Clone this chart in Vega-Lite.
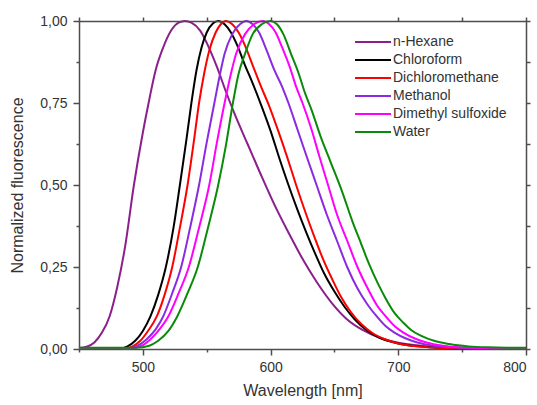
{
  "$schema": "https://vega.github.io/schema/vega-lite/v6.json",
  "width": 447,
  "height": 328,
  "autosize": {"type": "none"},
  "padding": {"left": 79, "top": 21, "right": 11, "bottom": 56},
  "background": "white",
  "datasets": {
    "spectra": [
      {"solvent":"n-Hexane","wavelength":450,"fluorescence":0.003},{"solvent":"n-Hexane","wavelength":456,"fluorescence":0.007},{"solvent":"n-Hexane","wavelength":462,"fluorescence":0.02},{"solvent":"n-Hexane","wavelength":468,"fluorescence":0.05},{"solvent":"n-Hexane","wavelength":474,"fluorescence":0.1},{"solvent":"n-Hexane","wavelength":480,"fluorescence":0.19},{"solvent":"n-Hexane","wavelength":486,"fluorescence":0.31},{"solvent":"n-Hexane","wavelength":493,"fluorescence":0.5},{"solvent":"n-Hexane","wavelength":500,"fluorescence":0.66},{"solvent":"n-Hexane","wavelength":505,"fluorescence":0.76},{"solvent":"n-Hexane","wavelength":510,"fluorescence":0.85},{"solvent":"n-Hexane","wavelength":516,"fluorescence":0.92},{"solvent":"n-Hexane","wavelength":522,"fluorescence":0.97},{"solvent":"n-Hexane","wavelength":528,"fluorescence":0.995},{"solvent":"n-Hexane","wavelength":533,"fluorescence":1.0},{"solvent":"n-Hexane","wavelength":538,"fluorescence":0.995},{"solvent":"n-Hexane","wavelength":545,"fluorescence":0.97},{"solvent":"n-Hexane","wavelength":551,"fluorescence":0.925},{"solvent":"n-Hexane","wavelength":558,"fluorescence":0.86},{"solvent":"n-Hexane","wavelength":565,"fluorescence":0.785},{"solvent":"n-Hexane","wavelength":572,"fluorescence":0.715},{"solvent":"n-Hexane","wavelength":582,"fluorescence":0.625},{"solvent":"n-Hexane","wavelength":592,"fluorescence":0.535},{"solvent":"n-Hexane","wavelength":603,"fluorescence":0.44},{"solvent":"n-Hexane","wavelength":614,"fluorescence":0.355},{"solvent":"n-Hexane","wavelength":625,"fluorescence":0.275},{"solvent":"n-Hexane","wavelength":636,"fluorescence":0.205},{"solvent":"n-Hexane","wavelength":648,"fluorescence":0.14},{"solvent":"n-Hexane","wavelength":660,"fluorescence":0.09},{"solvent":"n-Hexane","wavelength":672,"fluorescence":0.058},{"solvent":"n-Hexane","wavelength":685,"fluorescence":0.035},{"solvent":"n-Hexane","wavelength":700,"fluorescence":0.019},{"solvent":"n-Hexane","wavelength":720,"fluorescence":0.009},{"solvent":"n-Hexane","wavelength":745,"fluorescence":0.004},{"solvent":"n-Hexane","wavelength":770,"fluorescence":0.002},{"solvent":"n-Hexane","wavelength":800,"fluorescence":0.001},

      {"solvent":"Chloroform","wavelength":450,"fluorescence":0.002},{"solvent":"Chloroform","wavelength":482,"fluorescence":0.002},{"solvent":"Chloroform","wavelength":488,"fluorescence":0.008},{"solvent":"Chloroform","wavelength":494,"fluorescence":0.025},{"solvent":"Chloroform","wavelength":500,"fluorescence":0.055},{"solvent":"Chloroform","wavelength":506,"fluorescence":0.1},{"solvent":"Chloroform","wavelength":512,"fluorescence":0.165},{"solvent":"Chloroform","wavelength":518,"fluorescence":0.25},{"solvent":"Chloroform","wavelength":524,"fluorescence":0.37},{"solvent":"Chloroform","wavelength":529,"fluorescence":0.5},{"solvent":"Chloroform","wavelength":534,"fluorescence":0.635},{"solvent":"Chloroform","wavelength":538,"fluorescence":0.75},{"solvent":"Chloroform","wavelength":542,"fluorescence":0.85},{"solvent":"Chloroform","wavelength":546,"fluorescence":0.92},{"solvent":"Chloroform","wavelength":550,"fluorescence":0.965},{"solvent":"Chloroform","wavelength":555,"fluorescence":0.993},{"solvent":"Chloroform","wavelength":559,"fluorescence":1.0},{"solvent":"Chloroform","wavelength":564,"fluorescence":0.99},{"solvent":"Chloroform","wavelength":569,"fluorescence":0.965},{"solvent":"Chloroform","wavelength":574,"fluorescence":0.925},{"solvent":"Chloroform","wavelength":580,"fluorescence":0.865},{"solvent":"Chloroform","wavelength":586,"fluorescence":0.81},{"solvent":"Chloroform","wavelength":593,"fluorescence":0.74},{"solvent":"Chloroform","wavelength":600,"fluorescence":0.665},{"solvent":"Chloroform","wavelength":607,"fluorescence":0.58},{"solvent":"Chloroform","wavelength":614,"fluorescence":0.5},{"solvent":"Chloroform","wavelength":621,"fluorescence":0.425},{"solvent":"Chloroform","wavelength":628,"fluorescence":0.355},{"solvent":"Chloroform","wavelength":635,"fluorescence":0.29},{"solvent":"Chloroform","wavelength":642,"fluorescence":0.23},{"solvent":"Chloroform","wavelength":650,"fluorescence":0.175},{"solvent":"Chloroform","wavelength":658,"fluorescence":0.128},{"solvent":"Chloroform","wavelength":666,"fluorescence":0.09},{"solvent":"Chloroform","wavelength":675,"fluorescence":0.058},{"solvent":"Chloroform","wavelength":685,"fluorescence":0.035},{"solvent":"Chloroform","wavelength":700,"fluorescence":0.017},{"solvent":"Chloroform","wavelength":715,"fluorescence":0.008},{"solvent":"Chloroform","wavelength":730,"fluorescence":0.004},{"solvent":"Chloroform","wavelength":760,"fluorescence":0.001},{"solvent":"Chloroform","wavelength":800,"fluorescence":0.001},

      {"solvent":"Dichloromethane","wavelength":450,"fluorescence":0.002},{"solvent":"Dichloromethane","wavelength":486,"fluorescence":0.002},{"solvent":"Dichloromethane","wavelength":492,"fluorescence":0.008},{"solvent":"Dichloromethane","wavelength":498,"fluorescence":0.025},{"solvent":"Dichloromethane","wavelength":504,"fluorescence":0.055},{"solvent":"Dichloromethane","wavelength":511,"fluorescence":0.1},{"solvent":"Dichloromethane","wavelength":517,"fluorescence":0.165},{"solvent":"Dichloromethane","wavelength":523,"fluorescence":0.25},{"solvent":"Dichloromethane","wavelength":529,"fluorescence":0.37},{"solvent":"Dichloromethane","wavelength":535,"fluorescence":0.5},{"solvent":"Dichloromethane","wavelength":540,"fluorescence":0.635},{"solvent":"Dichloromethane","wavelength":544,"fluorescence":0.75},{"solvent":"Dichloromethane","wavelength":548,"fluorescence":0.84},{"solvent":"Dichloromethane","wavelength":552,"fluorescence":0.91},{"solvent":"Dichloromethane","wavelength":557,"fluorescence":0.965},{"solvent":"Dichloromethane","wavelength":561,"fluorescence":0.99},{"solvent":"Dichloromethane","wavelength":565,"fluorescence":1.0},{"solvent":"Dichloromethane","wavelength":570,"fluorescence":0.99},{"solvent":"Dichloromethane","wavelength":575,"fluorescence":0.965},{"solvent":"Dichloromethane","wavelength":580,"fluorescence":0.925},{"solvent":"Dichloromethane","wavelength":586,"fluorescence":0.865},{"solvent":"Dichloromethane","wavelength":592,"fluorescence":0.805},{"solvent":"Dichloromethane","wavelength":599,"fluorescence":0.74},{"solvent":"Dichloromethane","wavelength":606,"fluorescence":0.665},{"solvent":"Dichloromethane","wavelength":613,"fluorescence":0.585},{"solvent":"Dichloromethane","wavelength":620,"fluorescence":0.5},{"solvent":"Dichloromethane","wavelength":627,"fluorescence":0.42},{"solvent":"Dichloromethane","wavelength":634,"fluorescence":0.345},{"solvent":"Dichloromethane","wavelength":641,"fluorescence":0.275},{"solvent":"Dichloromethane","wavelength":648,"fluorescence":0.215},{"solvent":"Dichloromethane","wavelength":655,"fluorescence":0.16},{"solvent":"Dichloromethane","wavelength":663,"fluorescence":0.112},{"solvent":"Dichloromethane","wavelength":671,"fluorescence":0.076},{"solvent":"Dichloromethane","wavelength":680,"fluorescence":0.048},{"solvent":"Dichloromethane","wavelength":690,"fluorescence":0.029},{"solvent":"Dichloromethane","wavelength":700,"fluorescence":0.017},{"solvent":"Dichloromethane","wavelength":715,"fluorescence":0.008},{"solvent":"Dichloromethane","wavelength":730,"fluorescence":0.004},{"solvent":"Dichloromethane","wavelength":760,"fluorescence":0.001},{"solvent":"Dichloromethane","wavelength":800,"fluorescence":0.001},

      {"solvent":"Methanol","wavelength":450,"fluorescence":0.002},{"solvent":"Methanol","wavelength":488,"fluorescence":0.002},{"solvent":"Methanol","wavelength":496,"fluorescence":0.01},{"solvent":"Methanol","wavelength":503,"fluorescence":0.03},{"solvent":"Methanol","wavelength":510,"fluorescence":0.06},{"solvent":"Methanol","wavelength":516,"fluorescence":0.1},{"solvent":"Methanol","wavelength":523,"fluorescence":0.17},{"solvent":"Methanol","wavelength":530,"fluorescence":0.25},{"solvent":"Methanol","wavelength":537,"fluorescence":0.37},{"solvent":"Methanol","wavelength":544,"fluorescence":0.5},{"solvent":"Methanol","wavelength":550,"fluorescence":0.63},{"solvent":"Methanol","wavelength":556,"fluorescence":0.75},{"solvent":"Methanol","wavelength":560,"fluorescence":0.83},{"solvent":"Methanol","wavelength":564,"fluorescence":0.9},{"solvent":"Methanol","wavelength":570,"fluorescence":0.96},{"solvent":"Methanol","wavelength":576,"fluorescence":0.99},{"solvent":"Methanol","wavelength":581,"fluorescence":1.0},{"solvent":"Methanol","wavelength":586,"fluorescence":0.99},{"solvent":"Methanol","wavelength":591,"fluorescence":0.965},{"solvent":"Methanol","wavelength":597,"fluorescence":0.91},{"solvent":"Methanol","wavelength":603,"fluorescence":0.85},{"solvent":"Methanol","wavelength":609,"fluorescence":0.8},{"solvent":"Methanol","wavelength":614,"fluorescence":0.75},{"solvent":"Methanol","wavelength":621,"fluorescence":0.67},{"solvent":"Methanol","wavelength":628,"fluorescence":0.59},{"solvent":"Methanol","wavelength":636,"fluorescence":0.5},{"solvent":"Methanol","wavelength":644,"fluorescence":0.41},{"solvent":"Methanol","wavelength":652,"fluorescence":0.33},{"solvent":"Methanol","wavelength":660,"fluorescence":0.25},{"solvent":"Methanol","wavelength":668,"fluorescence":0.185},{"solvent":"Methanol","wavelength":676,"fluorescence":0.135},{"solvent":"Methanol","wavelength":683,"fluorescence":0.1},{"solvent":"Methanol","wavelength":690,"fluorescence":0.07},{"solvent":"Methanol","wavelength":697,"fluorescence":0.05},{"solvent":"Methanol","wavelength":706,"fluorescence":0.032},{"solvent":"Methanol","wavelength":715,"fluorescence":0.02},{"solvent":"Methanol","wavelength":728,"fluorescence":0.01},{"solvent":"Methanol","wavelength":740,"fluorescence":0.005},{"solvent":"Methanol","wavelength":770,"fluorescence":0.002},{"solvent":"Methanol","wavelength":800,"fluorescence":0.002},

      {"solvent":"Dimethyl sulfoxide","wavelength":450,"fluorescence":0.002},{"solvent":"Dimethyl sulfoxide","wavelength":490,"fluorescence":0.002},{"solvent":"Dimethyl sulfoxide","wavelength":499,"fluorescence":0.01},{"solvent":"Dimethyl sulfoxide","wavelength":506,"fluorescence":0.03},{"solvent":"Dimethyl sulfoxide","wavelength":513,"fluorescence":0.06},{"solvent":"Dimethyl sulfoxide","wavelength":520,"fluorescence":0.1},{"solvent":"Dimethyl sulfoxide","wavelength":528,"fluorescence":0.17},{"solvent":"Dimethyl sulfoxide","wavelength":536,"fluorescence":0.25},{"solvent":"Dimethyl sulfoxide","wavelength":544,"fluorescence":0.37},{"solvent":"Dimethyl sulfoxide","wavelength":552,"fluorescence":0.5},{"solvent":"Dimethyl sulfoxide","wavelength":558,"fluorescence":0.63},{"solvent":"Dimethyl sulfoxide","wavelength":564,"fluorescence":0.75},{"solvent":"Dimethyl sulfoxide","wavelength":569,"fluorescence":0.84},{"solvent":"Dimethyl sulfoxide","wavelength":573,"fluorescence":0.9},{"solvent":"Dimethyl sulfoxide","wavelength":580,"fluorescence":0.96},{"solvent":"Dimethyl sulfoxide","wavelength":587,"fluorescence":0.99},{"solvent":"Dimethyl sulfoxide","wavelength":594,"fluorescence":1.0},{"solvent":"Dimethyl sulfoxide","wavelength":599,"fluorescence":0.99},{"solvent":"Dimethyl sulfoxide","wavelength":604,"fluorescence":0.965},{"solvent":"Dimethyl sulfoxide","wavelength":609,"fluorescence":0.92},{"solvent":"Dimethyl sulfoxide","wavelength":615,"fluorescence":0.86},{"solvent":"Dimethyl sulfoxide","wavelength":620,"fluorescence":0.8},{"solvent":"Dimethyl sulfoxide","wavelength":625,"fluorescence":0.75},{"solvent":"Dimethyl sulfoxide","wavelength":632,"fluorescence":0.67},{"solvent":"Dimethyl sulfoxide","wavelength":638,"fluorescence":0.59},{"solvent":"Dimethyl sulfoxide","wavelength":645,"fluorescence":0.5},{"solvent":"Dimethyl sulfoxide","wavelength":652,"fluorescence":0.41},{"solvent":"Dimethyl sulfoxide","wavelength":660,"fluorescence":0.33},{"solvent":"Dimethyl sulfoxide","wavelength":668,"fluorescence":0.25},{"solvent":"Dimethyl sulfoxide","wavelength":676,"fluorescence":0.185},{"solvent":"Dimethyl sulfoxide","wavelength":683,"fluorescence":0.135},{"solvent":"Dimethyl sulfoxide","wavelength":690,"fluorescence":0.1},{"solvent":"Dimethyl sulfoxide","wavelength":697,"fluorescence":0.07},{"solvent":"Dimethyl sulfoxide","wavelength":704,"fluorescence":0.05},{"solvent":"Dimethyl sulfoxide","wavelength":713,"fluorescence":0.032},{"solvent":"Dimethyl sulfoxide","wavelength":722,"fluorescence":0.02},{"solvent":"Dimethyl sulfoxide","wavelength":735,"fluorescence":0.01},{"solvent":"Dimethyl sulfoxide","wavelength":748,"fluorescence":0.005},{"solvent":"Dimethyl sulfoxide","wavelength":775,"fluorescence":0.002},{"solvent":"Dimethyl sulfoxide","wavelength":800,"fluorescence":0.002},

      {"solvent":"Water","wavelength":450,"fluorescence":0.004},{"solvent":"Water","wavelength":495,"fluorescence":0.004},{"solvent":"Water","wavelength":505,"fluorescence":0.01},{"solvent":"Water","wavelength":512,"fluorescence":0.025},{"solvent":"Water","wavelength":520,"fluorescence":0.055},{"solvent":"Water","wavelength":527,"fluorescence":0.1},{"solvent":"Water","wavelength":535,"fluorescence":0.17},{"solvent":"Water","wavelength":543,"fluorescence":0.25},{"solvent":"Water","wavelength":551,"fluorescence":0.37},{"solvent":"Water","wavelength":559,"fluorescence":0.5},{"solvent":"Water","wavelength":565,"fluorescence":0.62},{"solvent":"Water","wavelength":570.5,"fluorescence":0.75},{"solvent":"Water","wavelength":575,"fluorescence":0.84},{"solvent":"Water","wavelength":580,"fluorescence":0.9},{"solvent":"Water","wavelength":586,"fluorescence":0.96},{"solvent":"Water","wavelength":593,"fluorescence":0.99},{"solvent":"Water","wavelength":600,"fluorescence":1.0},{"solvent":"Water","wavelength":605,"fluorescence":0.99},{"solvent":"Water","wavelength":610,"fluorescence":0.96},{"solvent":"Water","wavelength":616,"fluorescence":0.9},{"solvent":"Water","wavelength":622,"fluorescence":0.84},{"solvent":"Water","wavelength":627,"fluorescence":0.78},{"solvent":"Water","wavelength":632,"fluorescence":0.73},{"solvent":"Water","wavelength":639,"fluorescence":0.65},{"solvent":"Water","wavelength":647,"fluorescence":0.57},{"solvent":"Water","wavelength":656,"fluorescence":0.48},{"solvent":"Water","wavelength":664,"fluorescence":0.39},{"solvent":"Water","wavelength":671,"fluorescence":0.32},{"solvent":"Water","wavelength":677,"fluorescence":0.26},{"solvent":"Water","wavelength":684,"fluorescence":0.2},{"solvent":"Water","wavelength":690,"fluorescence":0.155},{"solvent":"Water","wavelength":697,"fluorescence":0.11},{"solvent":"Water","wavelength":704,"fluorescence":0.08},{"solvent":"Water","wavelength":710,"fluorescence":0.058},{"solvent":"Water","wavelength":718,"fluorescence":0.04},{"solvent":"Water","wavelength":728,"fluorescence":0.025},{"solvent":"Water","wavelength":740,"fluorescence":0.015},{"solvent":"Water","wavelength":755,"fluorescence":0.008},{"solvent":"Water","wavelength":770,"fluorescence":0.005},{"solvent":"Water","wavelength":785,"fluorescence":0.004},{"solvent":"Water","wavelength":800,"fluorescence":0.004}
    ]
  },
  "data": {"name": "spectra"},
  "encoding": {
    "x": {"field": "wavelength", "type": "quantitative", "scale": {"domain": [450, 800], "nice": false, "zero": false}},
    "y": {"field": "fluorescence", "type": "quantitative", "scale": {"domain": [0, 1], "nice": false, "zero": false}}
  },
  "layer": [
    {
      "mark": {"type": "line", "strokeWidth": 2, "interpolate": "monotone"},
      "encoding": {
        "x": {
          "field": "wavelength", "type": "quantitative",
          "axis": {
            "orient": "bottom",
            "title": "Wavelength [nm]",
            "values": [450, 500, 550, 600, 650, 700, 750, 800],
            "labelExpr": "datum.value % 100 === 0 ? datum.label : ''",
            "tickSize": {"condition": {"test": "datum.value % 100 === 0", "value": 6}, "value": 3},
            "labelPadding": 5,
            "titlePadding": 8
          }
        },
        "y": {
          "field": "fluorescence", "type": "quantitative",
          "axis": {
            "orient": "left",
            "title": "Normalized fluorescence",
            "values": [0, 0.125, 0.25, 0.375, 0.5, 0.625, 0.75, 0.875, 1],
            "labelExpr": "(datum.value * 4) % 1 === 0 ? replace(format(datum.value, '.2f'), '.', ',') : ''",
            "tickSize": {"condition": {"test": "(datum.value * 4) % 1 === 0", "value": 6}, "value": 3},
            "labelPadding": 6,
            "titlePadding": 14
          }
        },
        "color": {
          "field": "solvent", "type": "nominal",
          "scale": {
            "domain": ["n-Hexane", "Chloroform", "Dichloromethane", "Methanol", "Dimethyl sulfoxide", "Water"],
            "range": ["#8b1f8b", "#000000", "#ff0000", "#8a2be2", "#ff00ff", "#0a8a0a"]
          },
          "legend": {
            "orient": "none",
            "legendX": 283,
            "legendY": 10,
            "title": null,
            "padding": 0,
            "symbolType": "M-1.8,0H1.8",
            "symbolSize": 400,
            "symbolStrokeWidth": 2,
            "symbolFillColor": "transparent",
            "labelFontSize": 14,
            "labelOffset": 9,
            "rowPadding": 0,
            "labelColor": "#333333"
          }
        }
      }
    },
    {
      "mark": {"type": "point", "opacity": 0},
      "encoding": {
        "x": {
          "field": "wavelength", "type": "quantitative",
          "axis": {
            "orient": "top", "title": null, "labels": false, "domain": true,
            "values": [450, 500, 550, 600, 650, 700, 750, 800],
            "tickSize": 4, "zindex": 2
          }
        },
        "y": {
          "field": "fluorescence", "type": "quantitative",
          "axis": {
            "orient": "right", "title": null, "labels": false, "domain": true,
            "values": [0, 0.125, 0.25, 0.375, 0.5, 0.625, 0.75, 0.875, 1],
            "tickSize": 4, "zindex": 2
          }
        }
      }
    },
    {
      "data": {"values": [{}]},
      "mark": {"type": "rule", "color": "#4d4d4d", "strokeWidth": 1.5},
      "encoding": {
        "x": {"datum": 450, "type": "quantitative", "axis": null},
        "x2": {"datum": 800},
        "y": {"datum": 1, "type": "quantitative", "axis": null}
      }
    }
  ],
  "resolve": {"axis": {"x": "independent", "y": "independent"}},
  "config": {
    "font": "Liberation Sans",
    "view": {"stroke": null},
    "axis": {
      "grid": false,
      "domainColor": "#4d4d4d",
      "domainWidth": 1.5,
      "tickColor": "#4d4d4d",
      "tickWidth": 1.5,
      "labelColor": "#333333",
      "labelFontSize": 14,
      "titleFontSize": 16,
      "titleFontWeight": "normal",
      "titleColor": "#333333"
    }
  }
}
